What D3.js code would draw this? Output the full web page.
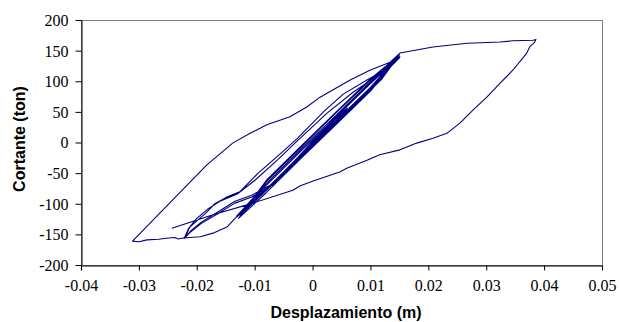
<!DOCTYPE html>
<html>
<head>
<meta charset="utf-8">
<script src="https://cdn.jsdelivr.net/npm/d3@7"></script>
<style>
  html, body { margin: 0; padding: 0; background: #fff; }
  svg { display: block; }
  .tick text { font-family: "Liberation Serif", "Times New Roman", serif !important; font-size: 16px !important; }
</style>
</head>
<body>
<svg id="chart" width="619" height="322"></svg>
<script>
// ---- data ----
const xTicks = [-0.04, -0.03, -0.02, -0.01, 0, 0.01, 0.02, 0.03, 0.04, 0.05];
const xTickLabels = ["-0.04", "-0.03", "-0.02", "-0.01", "0", "0.01", "0.02", "0.03", "0.04", "0.05"];
const yTicks = [-200, -150, -100, -50, 0, 50, 100, 150, 200];
const yTickLabels = ["-200", "-150", "-100", "-50", "0", "50", "100", "150", "200"];
const xTitle = "Desplazamiento (m)";
const yTitle = "Cortante (ton)";

// displacement (m), in load-history order
const disp = [
  0, 0.003, 0.0055, 0.004, 0.001, -0.002, -0.0045, -0.003, 0, 0.003, 0.006, 0.0035, 0, -0.005, -0.0025, 0,
  0.005, 0.010, 0.0147,
  0.012, 0.006, 0, -0.006, -0.0125,
  -0.008, -0.002, 0.004, 0.010, 0.0149,
  0.010, 0.004, -0.002, -0.008, -0.0130,
  -0.008, -0.002, 0.004, 0.010, 0.0146,
  0.010, 0.004, -0.002, -0.008, -0.0128,
  -0.008, -0.002, 0.004, 0.010, 0.0150,
  0.010, 0.004, -0.002, -0.008, -0.0131,
  -0.008, -0.002, 0.004, 0.010, 0.0148,
  0.010, 0.004, -0.002, -0.007, -0.0105, -0.0134, -0.0163, -0.0192, -0.0210, -0.0220,
  -0.0216, -0.0212, -0.0200, -0.0183, -0.0169, -0.0150, -0.0125, -0.0094, -0.0053, -0.0027, 0.0021, 0.0053, 0.0094, 0.0116, 0.0134, 0.0151,
  0.010, 0.004, -0.002, -0.007, -0.0105, -0.0134, -0.0163, -0.0192, -0.0212, -0.0222,
  -0.0214, -0.0200, -0.0180, -0.0160, -0.0130, -0.0100, -0.0060, -0.0025, 0.0025, 0.0070, 0.0110, 0.0150,
  0.010, 0.004, -0.002, -0.008, -0.0105, -0.0117, -0.0131, -0.0148, -0.0172, -0.0194, -0.0224, -0.0232, -0.0238, -0.0249, -0.0266, -0.0286, -0.0300, -0.0311,
  -0.0183, -0.0138, -0.0108, -0.0079, -0.0039, -0.0010, 0.0013, 0.0065, 0.0099, 0.0134, 0.0151, 0.0208, 0.0267, 0.0324, 0.0346, 0.0381, 0.0386,
  0.0383, 0.0375, 0.0370, 0.0346, 0.0324, 0.0301, 0.0277, 0.0255, 0.0232, 0.0208, 0.0180, 0.0151, 0.0116, 0.0094, 0.0059, 0.0047, 0.0001, -0.0022, -0.0034, -0.0103, -0.0172, -0.0243
];

// shear force (ton), same order
const force = [
  0, 30, 52, 38, 8, -22, -44, -30, 0, 32, 56, 30, -4, -48, -24, 2,
  52, 98, 139,
  104, 48, -6, -60, -119,
  -64, -8, 48, 102, 141,
  88, 33, -22, -78, -121,
  -70, -14, 41, 96, 136,
  84, 29, -26, -82, -124,
  -62, -6, 49, 104, 143,
  90, 35, -20, -76, -120,
  -67, -11, 44, 99, 139,
  88, 32, -24, -68, -86, -96, -113, -130, -144, -155,
  -146, -138, -128, -114, -100, -90, -80, -50, -16, 6, 52, 79, 102, 114, 126, 140,
  87, 32, -23, -70, -89, -99, -116, -132, -147, -157,
  -140, -124, -108, -96, -84, -62, -28, 4, 48, 82, 108, 138,
  90, 35, -20, -76, -94, -108, -121, -138, -148, -154, -156, -157.5, -155, -156, -158, -159, -162, -161,
  -37, -1, 15, 29, 42, 58, 74, 102, 118, 131, 146, 156, 162, 164, 166, 167, 168,
  163, 156, 146, 118, 97, 74, 53, 32, 15, 7, -1, -12, -20, -29, -42, -48, -63, -71, -78, -99, -118, -140
];

// ---- chart ----
const plot = { left: 81, top: 20, right: 602, bottom: 265 };
const svg = d3.select("#chart");

const x = d3.scaleLinear().domain([-0.04, 0.05]).range([plot.left, plot.right]);
const y = d3.scaleLinear().domain([-200, 200]).range([plot.bottom, plot.top]);

// plot area border (grey)
svg.append("rect")
  .attr("x", plot.left + 0.5).attr("y", plot.top + 0.5)
  .attr("width", plot.right - plot.left).attr("height", plot.bottom - plot.top)
  .attr("fill", "none").attr("stroke", "#808080").attr("stroke-width", 1);

// data line
const pts = disp.map((d, i) => [d, force[i]]);
const line = d3.line().x(d => x(d[0])).y(d => y(d[1]));
svg.append("path")
  .datum(pts)
  .attr("d", line)
  .attr("fill", "none")
  .attr("stroke", "#000080")
  .attr("stroke-width", 1.1)
  .attr("stroke-linejoin", "round");

// axes
const xAxis = d3.axisBottom(x).tickValues(xTicks).tickSizeInner(5).tickSizeOuter(0)
  .tickFormat((d, i) => xTickLabels[i]).tickPadding(8);
const yAxis = d3.axisLeft(y).tickValues(yTicks).tickSizeInner(6).tickSizeOuter(0)
  .tickFormat((d, i) => yTickLabels[i]).tickPadding(7);

const serif = "'Liberation Serif', 'Times New Roman', serif";
const gx = svg.append("g").attr("transform", `translate(0,${plot.bottom + 0.5})`).call(xAxis)
  .attr("font-family", serif).attr("font-size", 16);
const gy = svg.append("g").attr("transform", `translate(${plot.left + 0.5},0)`).call(yAxis)
  .attr("font-family", serif).attr("font-size", 16);

gx.select(".domain").attr("stroke", "#000");
gy.select(".domain").attr("stroke", "#000");
gx.selectAll(".tick line").attr("stroke", "#000");
gy.selectAll(".tick line").attr("stroke", "#000");
gx.selectAll(".tick text").attr("fill", "#000").attr("font-family", serif).attr("font-size", 16).attr("dy", "0.75em");
gy.selectAll(".tick text").attr("fill", "#000").attr("font-family", serif).attr("font-size", 16).attr("dy", "0.34em");

// axis titles
svg.append("text")
  .attr("x", 346).attr("y", 318)
  .attr("text-anchor", "middle")
  .attr("font-family", "'Liberation Sans', Arial, sans-serif")
  .attr("font-weight", "bold")
  .attr("font-size", 16)
  .text(xTitle);

svg.append("text")
  .attr("transform", "translate(24.5,139) rotate(-90)")
  .attr("text-anchor", "middle")
  .attr("font-family", "'Liberation Sans', Arial, sans-serif")
  .attr("font-weight", "bold")
  .attr("font-size", 16)
  .text(yTitle);
</script>
</body>
</html>
